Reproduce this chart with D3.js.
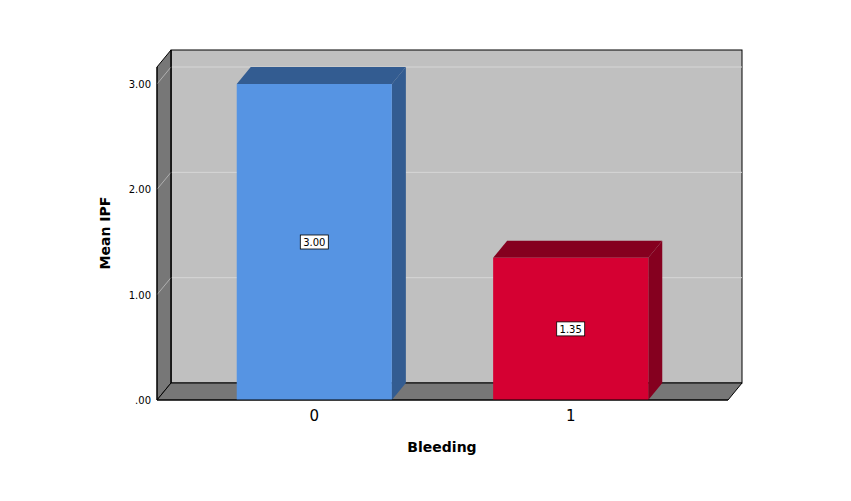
<!DOCTYPE html><html><head><meta charset="utf-8"><script src="https://cdn.jsdelivr.net/npm/d3@7"></script>
<style>body{margin:0;background:#fff}</style></head><body><svg id="c" width="851" height="501"></svg>
<script>
const categories=["0","1"];
const values=[3.00,1.35];
const colors=["#5694e3","#d50032"];
const sideColors=["#335c91","#85001f"];
const ticks=[0,1,2,3];
const tickLabels=[".00","1.00","2.00","3.00"];
const svg=d3.select("#c");
const dx=14,dy=-17;
const x0=157,x1=728,yb=400;
const y=d3.scaleLinear().domain([0,3]).range([yb,84]);
const x=d3.scaleBand().domain(categories).range([x0,x1]).paddingInner(0.395).paddingOuter(0.311);
const yt=50-dy;
svg.append("rect").attr("x",x0+dx).attr("y",yt+dy).attr("width",x1-x0).attr("height",yb-yt).attr("fill","#c0c0c0").attr("stroke","#000");
ticks.slice(1).forEach(t=>{svg.append("line").attr("x1",x0+dx).attr("x2",x1+dx).attr("y1",y(t)+dy).attr("y2",y(t)+dy).attr("stroke","#d6d6d6");});
svg.append("path").attr("d",`M${x0},${yt}L${x0+dx},${yt+dy}L${x0+dx},${yb+dy}L${x0},${yb}Z`).attr("fill","#777").attr("stroke","#000");
ticks.slice(1).forEach(t=>{svg.append("line").attr("x1",x0).attr("x2",x0+dx).attr("y1",y(t)).attr("y2",y(t)+dy).attr("stroke","#b0b0b0");});
svg.append("path").attr("d",`M${x0},${yb}L${x0+dx},${yb+dy}L${x1+dx},${yb+dy}L${x1},${yb}Z`).attr("fill","#777").attr("stroke","#000");
svg.append("line").attr("x1",x0+dx).attr("x2",x0+dx).attr("y1",yt+dy).attr("y2",yb+dy).attr("stroke","#000");
categories.forEach((c,i)=>{
 const bx=x(c),bw=x.bandwidth(),by=y(values[i]);
 svg.append("path").attr("d",`M${bx+bw},${by}L${bx+bw+dx},${by+dy}L${bx+bw+dx},${yb+dy}L${bx+bw},${yb}Z`).attr("fill",sideColors[i]);
 svg.append("path").attr("d",`M${bx},${by}L${bx+dx},${by+dy}L${bx+bw+dx},${by+dy}L${bx+bw},${by}Z`).attr("fill",sideColors[i]);
 svg.append("rect").attr("x",bx).attr("y",by).attr("width",bw).attr("height",yb-by).attr("fill",colors[i]);
 const cy=(by+yb)/2, cx=bx+bw/2;
 svg.append("rect").attr("x",cx-14).attr("y",cy-7).attr("width",28).attr("height",14).attr("fill","#fff").attr("stroke","#000").attr("stroke-width",0.8);
 svg.append("text").attr("x",cx).attr("y",cy+4).attr("text-anchor","middle").attr("font-family","DejaVu Sans").attr("font-size",10).text(values[i].toFixed(2));
 svg.append("text").attr("x",cx).attr("y",421).attr("text-anchor","middle").attr("font-family","DejaVu Sans").attr("font-size",15).text(c);
});
svg.append("line").attr("x1",x0).attr("x2",x0).attr("y1",yt).attr("y2",yb).attr("stroke","#000");
svg.append("line").attr("x1",x0).attr("x2",x1).attr("y1",yb).attr("y2",yb).attr("stroke","#000");
ticks.forEach((t,i)=>svg.append("text").attr("x",151).attr("y",y(t)+4).attr("text-anchor","end").attr("font-family","DejaVu Sans").attr("font-size",10).text(tickLabels[i]));
svg.append("text").attr("transform","translate(110,233)rotate(-90)").attr("text-anchor","middle").attr("font-family","DejaVu Sans").attr("font-weight","bold").attr("font-size",14).text("Mean IPF");
svg.append("text").attr("x",442).attr("y",452).attr("text-anchor","middle").attr("font-family","DejaVu Sans").attr("font-weight","bold").attr("font-size",14).text("Bleeding");
</script></body></html>
